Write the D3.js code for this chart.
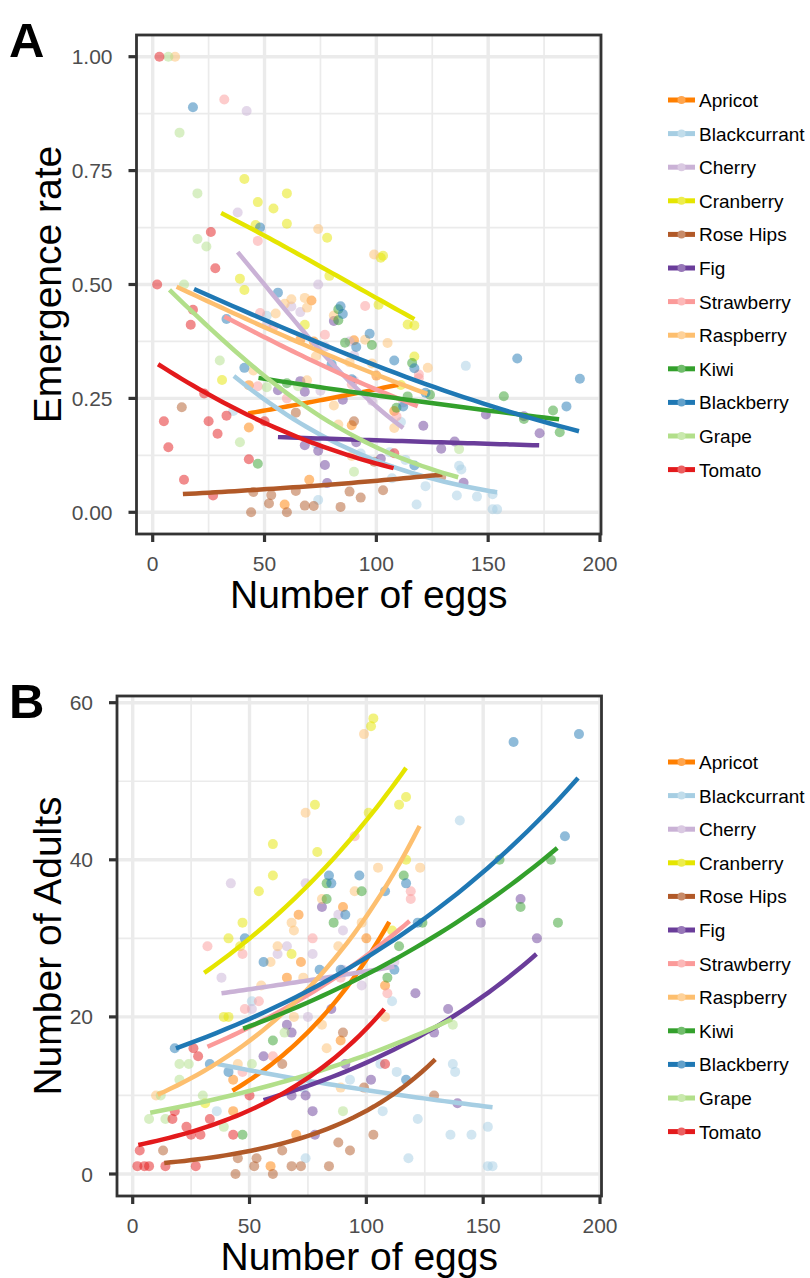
<!DOCTYPE html>
<meta charset="utf-8">
<style>
  body { margin: 0; background: #fff; }
  text { font-family: "Liberation Sans", Arial, sans-serif; }
</style>
<body>
<script src="https://cdn.jsdelivr.net/npm/d3@7/dist/d3.min.js"></script>
<script>

    var width = 810,
        height = 1278;

    // fruit order = legend order = drawing order
    var fruits = ["Apricot", "Blackcurrant", "Cherry", "Cranberry", "Rose Hips", "Fig",
                  "Strawberry", "Raspberry", "Kiwi", "Blackberry", "Grape", "Tomato"];
    var colors = ["#FF7F00", "#A6CEE3", "#CAB2D6", "#E5E500", "#B15928", "#6A3D9A",
                  "#FB9A99", "#FDBF6F", "#33A02C", "#1F78B4", "#B2DF8A", "#E31A1C"];

    // [number of eggs, number of adults]
    var apricot = [[71,33],[90,34],[100,30],[72,27],[66,25],[89,17],[43,12],[43,8],[59,1],[70,5],[108,24]];
    var blackcurrant = [[140,45],[51,22],[36,8],[74,2],[73,11],[93,12],[111,22],[137,14],[138,13],[106,14],
                        [113,13],[107,8],[122,7],[136,5],[145,5],[152,6],[118,2],[152,1],[154,1]];
    var cherry = [[42,37],[74,37],[88,33],[90,31],[66,29],[62,28],[77,28],[38,25],[51,21],[75,20],[90,26],[98,24],[112,27]];
    var cranberry = [[60,42],[60,38],[54,36],[47,32],[41,30],[78,47],[79,41],[68,28],[46,29],[103,58],
                     [102,57],[117,48],[114,47],[101,46],[117,40],[111,31],[39,20],[41,20],[31,9]];
    var roseHips = [[13,3],[45,2],[53,2],[44,0],[52,1],[60,0],[64,3],[68,1],[72,1],[84,1],[88,4],[93,3],
                    [99,11],[129,10],[103,5],[90,18],[64,14]];
    var fig = [[81,34],[66,19],[68,18],[85,21],[56,15],[78,5],[68,10],[74,10],[77,8],[91,14],[121,23],
               [135,21],[129,18],[102,12],[139,9],[166,35],[149,32],[173,30]];
    var strawberry = [[32,29],[77,30],[47,28],[95,43],[119,36],[119,35],[89,25],[54,22],[48,21],[47,13],[60,15],[109,23]];
    var raspberry = [[74,46],[81,35],[68,32],[69,31],[62,29],[88,29],[99,56],[105,39],[123,39],[95,36],[98,32],
                     [59,27],[73,25],[55,24],[69,20],[81,19],[83,16],[45,14],[10,10],[89,11],[108,20]];
    var kiwi = [[83,37],[83,35],[86,32],[157,40],[179,40],[116,38],[98,36],[166,34],[182,32],[124,32],[114,29],
                [60,17],[47,5],[109,25]];
    var blackberry = [[48,30],[84,38],[85,37],[91,33],[163,55],[191,56],[185,43],[97,38],[117,37],[108,36],
                      [122,32],[56,27],[80,26],[89,26],[18,16],[33,14],[41,13],[112,26],[117,12]];
    var grape = [[7,7],[12,10],[14,7],[20,14],[24,14],[20,12],[51,14],[65,18],[30,10],[39,6],[90,8],[137,19]];
    var tomato = [[3,3],[2,1],[5,1],[7,1],[14,1],[27,1],[26,16],[28,15],[18,8],[17,7],[23,6],[25,5],[29,5],
                  [33,7],[43,5],[50,10],[108,14]];

    var points = [apricot, blackcurrant, cherry, cranberry, roseHips, fig,
                  strawberry, raspberry, kiwi, blackberry, grape, tomato];

    // fitted curves: egg range and fitted value at both ends
    var fitFrom  = [42.7, 36.3, 38.0, 30.6, 13.5, 56.0, 32.0, 10.7, 47.3, 18.5, 7.5, 2.4];
    var fitTo    = [109.8, 154, 112, 117, 129.5, 172.8, 118.5, 122.8, 181.7, 190.6, 136.6, 107.7];
    var rateFrom = [0.217, 0.299, 0.571, 0.657, 0.040, 0.165, 0.43, 0.495, 0.295, 0.49, 0.488, 0.325];
    var rateTo   = [0.280, 0.044, 0.185, 0.424, 0.083, 0.147, 0.233, 0.26, 0.204, 0.178, 0.077, 0.097];
    var adultFrom = [10.6, 14.0, 23.0, 25.6, 1.4, 9.4, 16.2, 10.1, 18.5, 16.0, 7.8, 3.7];
    var adultTo   = [32.1, 8.5, 26.4, 51.7, 14.6, 28.0, 32.2, 44.3, 41.5, 50.4, 19.7, 21.0];

    var xTicks = [0, 50, 100, 150, 200];
    var xMinor = [25, 75, 125, 175];
    var rateTicks = [0, 0.25, 0.5, 0.75, 1];
    var rateMinor = [0.125, 0.375, 0.625, 0.875];
    var adultTicks = [0, 20, 40, 60];
    var adultMinor = [10, 30, 50];

    var svg = d3.select("body").append("svg")
            .attr("width", width)
            .attr("height", height);

    var logit = function(p) { return Math.log(p / (1 - p)); };

    var panels = [
        { label: "A", box: [136.5, 35, 601, 534], xr: [152.7, 600], yr: [512.3, 56.7], yd: [0, 1],
          ticks: rateTicks, minor: rateMinor, fmt: d3.format(".2f"), title: "Emergence rate",
          value: function(p) { return p[1] / p[0]; }, legendTop: 100,
          fit: function(i, t) {
              var l = logit(rateFrom[i]) + (logit(rateTo[i]) - logit(rateFrom[i])) * t;
              return 1 / (1 + Math.exp(-l));
          } },
        { label: "B", box: [117, 696, 601.5, 1196], xr: [132.7, 600], yr: [1174, 702.7], yd: [0, 60],
          ticks: adultTicks, minor: adultMinor, fmt: d3.format("d"), title: "Number of Adults",
          value: function(p) { return p[1]; }, legendTop: 762,
          fit: function(i, t) {
              return Math.exp(Math.log(adultFrom[i]) + (Math.log(adultTo[i]) - Math.log(adultFrom[i])) * t);
          } }
    ];

    panels.forEach(drawPanel);

    function drawPanel(P) {
        var g = svg.append("g");
        var x = d3.scaleLinear().domain([0, 200]).range(P.xr);
        var y = d3.scaleLinear().domain(P.yd).range(P.yr);
        var L = P.box[0], T = P.box[1], R = P.box[2], B = P.box[3];

        // grid
        g.selectAll(".vmin").data(xMinor).enter().append("line")
            .attr("x1", x).attr("x2", x).attr("y1", T).attr("y2", B)
            .attr("stroke", "#ebebeb").attr("stroke-width", 1.7);
        g.selectAll(".hmin").data(P.minor).enter().append("line")
            .attr("y1", y).attr("y2", y).attr("x1", L).attr("x2", R)
            .attr("stroke", "#ebebeb").attr("stroke-width", 1.7);
        g.selectAll(".vmaj").data(xTicks).enter().append("line")
            .attr("x1", x).attr("x2", x).attr("y1", T).attr("y2", B)
            .attr("stroke", "#ebebeb").attr("stroke-width", 3.4);
        g.selectAll(".hmaj").data(P.ticks).enter().append("line")
            .attr("y1", y).attr("y2", y).attr("x1", L).attr("x2", R)
            .attr("stroke", "#ebebeb").attr("stroke-width", 3.4);

        // points
        points.forEach(function(pts, i) {
            g.selectAll(null).data(pts).enter().append("circle")
                .attr("cx", function(d) { return x(d[0]); })
                .attr("cy", function(d) { return y(P.value(d)); })
                .attr("r", 5)
                .attr("fill", colors[i])
                .attr("fill-opacity", 0.5);
        });

        // fitted lines
        var line = d3.line().x(function(d) { return x(d[0]); }).y(function(d) { return y(d[1]); });
        fruits.forEach(function(f, i) {
            var curve = d3.range(41).map(function(k) {
                var t = k / 40;
                return [fitFrom[i] + (fitTo[i] - fitFrom[i]) * t, P.fit(i, t)];
            });
            g.append("path").attr("d", line(curve))
                .attr("fill", "none").attr("stroke", colors[i]).attr("stroke-width", 4.5);
        });

        // border
        g.append("rect").attr("x", L).attr("y", T).attr("width", R - L).attr("height", B - T)
            .attr("fill", "none").attr("stroke", "#333333").attr("stroke-width", 2.8);

        // ticks & labels
        g.selectAll(".xt").data(xTicks).enter().append("line")
            .attr("x1", x).attr("x2", x).attr("y1", B).attr("y2", B + 8)
            .attr("stroke", "#333333").attr("stroke-width", 3.2);
        g.selectAll(".xl").data(xTicks).enter().append("text")
            .attr("x", x).attr("y", B + 37).attr("text-anchor", "middle")
            .attr("font-size", 21).attr("fill", "#4d4d4d").text(function(d) { return d; });
        g.selectAll(".yt").data(P.ticks).enter().append("line")
            .attr("y1", y).attr("y2", y).attr("x1", L - 8).attr("x2", L)
            .attr("stroke", "#333333").attr("stroke-width", 3.2);
        g.selectAll(".yl").data(P.ticks).enter().append("text")
            .attr("x", L - 24).attr("y", function(d) { return y(d) + 7.5; }).attr("text-anchor", "end")
            .attr("font-size", 21).attr("fill", "#4d4d4d").text(P.fmt);

        // titles
        g.append("text").attr("x", (L + R) / 2).attr("y", B + 74)
            .attr("text-anchor", "middle").attr("font-size", 39).attr("fill", "#000")
            .text("Number of eggs");
        g.append("text")
            .attr("transform", "translate(61," + ((T + B) / 2) + ") rotate(-90)")
            .attr("text-anchor", "middle").attr("font-size", 39).attr("fill", "#000")
            .text(P.title);
        g.append("text").attr("x", 9).attr("y", T + 22)
            .attr("font-size", 49).attr("font-weight", "bold").attr("fill", "#000")
            .text(P.label);

        // legend
        var lg = g.selectAll(".leg").data(fruits).enter().append("g")
            .attr("transform", function(d, i) { return "translate(0," + (P.legendTop + i * 33.6) + ")"; });
        lg.append("line").attr("x1", 668).attr("x2", 695).attr("y1", 0).attr("y2", 0)
            .attr("stroke", function(d, i) { return colors[i]; }).attr("stroke-width", 5);
        lg.append("circle").attr("cx", 681.5).attr("cy", 0).attr("r", 4)
            .attr("fill", function(d, i) { return d3.interpolateRgb(colors[i], "#fff")(0.3); });
        lg.append("text").attr("x", 699).attr("y", 7).attr("font-size", 19).attr("fill", "#000")
            .text(function(d) { return d; });
    }

</script>
